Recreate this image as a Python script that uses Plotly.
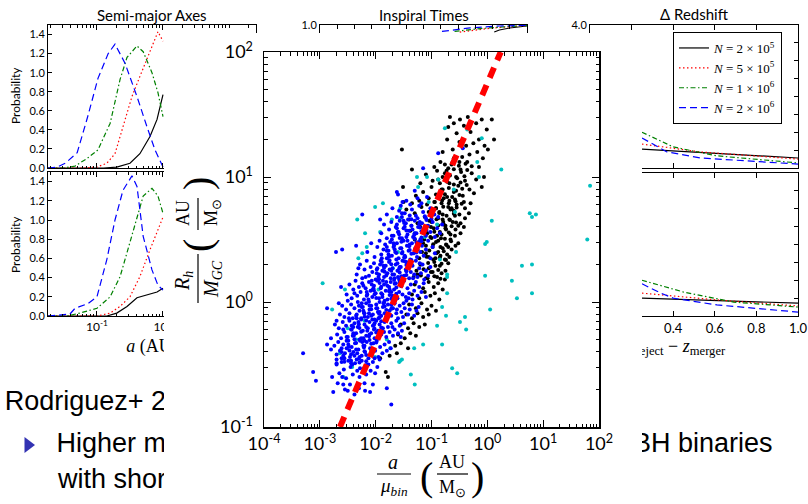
import plotly.graph_objects as go

# ===================== DATA =====================
# Main panel: individual binaries, (log10 a/mu_bin [AU/Msun], log10 R_h/M_GC [AU/Msun])
BLUE_PTS = [
 (-1.62,0.88),(-1.15,1.07),(-0.88,1.19),(-0.44,1.23),(-1.53,0.71),
 (-1.60,0.86),(-1.45,0.81),(-1.30,0.89),(-1.18,0.79),(-1.52,0.80),(-1.08,0.84),(-1.38,0.78),(-1.25,0.83),
 (-1.80,0.70),(-1.70,0.75),(-1.62,0.68),(-1.55,0.77),(-1.48,0.71),(-1.42,0.66),(-1.35,0.74),(-1.28,0.69),
 (-1.22,0.77),(-1.15,0.72),(-1.10,0.67),(-1.02,0.75),(-0.95,0.70),(-0.88,0.68),(-1.58,0.73),(-2.24,0.70),(-1.92,0.66),
 (-1.90,0.55),(-1.85,0.62),(-1.80,0.51),(-1.76,0.58),(-1.72,0.64),(-1.68,0.53),(-1.64,0.60),(-1.60,0.56),
 (-1.57,0.65),(-1.53,0.51),(-1.50,0.59),(-1.46,0.63),(-1.43,0.54),(-1.40,0.57),(-1.36,0.61),(-1.33,0.52),
 (-1.30,0.65),(-1.27,0.55),(-1.24,0.60),(-1.20,0.50),(-1.17,0.63),(-1.13,0.57),(-1.10,0.53),(-1.06,0.61),
 (-1.02,0.56),(-0.98,0.64),(-0.94,0.52),(-0.90,0.59),(-0.85,0.55),(-0.81,0.62),
 (-2.15,0.40),(-2.08,0.47),(-2.02,0.36),(-1.97,0.44),(-1.93,0.49),(-1.90,0.38),(-1.86,0.42),(-1.83,0.46),
 (-1.80,0.35),(-1.77,0.41),(-1.74,0.48),(-1.71,0.37),(-1.68,0.44),(-1.65,0.40),(-1.62,0.47),(-1.59,0.35),
 (-1.56,0.43),(-1.53,0.39),(-1.50,0.49),(-1.47,0.36),(-1.44,0.45),(-1.41,0.41),(-1.38,0.34),(-1.35,0.47),
 (-1.32,0.39),(-1.29,0.43),(-1.26,0.36),(-1.23,0.48),(-1.20,0.40),(-1.17,0.45),(-1.14,0.37),(-1.10,0.42),
 (-1.06,0.49),(-1.02,0.35),(-0.98,0.44),(-0.94,0.39),(-2.71,0.40),(-2.60,0.42),(-2.35,0.45),
 (-2.34,0.22),(-2.28,0.30),(-2.24,0.19),(-2.20,0.26),(-2.16,0.33),(-2.12,0.21),(-2.09,0.28),(-2.06,0.24),
 (-2.03,0.31),(-2.00,0.18),(-1.97,0.27),(-1.94,0.22),(-1.91,0.33),(-1.88,0.25),(-1.85,0.20),(-1.82,0.29),
 (-1.79,0.23),(-1.76,0.32),(-1.73,0.19),(-1.70,0.27),(-1.67,0.22),(-1.64,0.30),(-1.61,0.25),(-1.58,0.18),
 (-1.55,0.28),(-1.52,0.33),(-1.49,0.21),(-1.46,0.26),(-1.43,0.31),(-1.40,0.19),(-1.37,0.24),(-1.34,0.29),
 (-1.31,0.22),(-1.28,0.33),(-1.25,0.20),(-1.22,0.27),(-1.19,0.23),(-1.16,0.30),(-1.13,0.18),(-1.10,0.25),
 (-1.06,0.21),(-1.02,0.28),(-2.31,0.27),(-2.18,0.20),(-1.92,0.30),(-1.75,0.26),(-1.60,0.20),(-1.45,0.32),
 (-1.33,0.19),(-1.21,0.31),
 (-2.52,0.06),(-2.47,0.14),(-2.43,0.03),(-2.40,0.10),(-2.36,0.17),(-2.33,0.05),(-2.30,0.12),(-2.27,0.08),
 (-2.24,0.15),(-2.21,0.02),(-2.18,0.11),(-2.15,0.06),(-2.12,0.16),(-2.09,0.09),(-2.06,0.04),(-2.03,0.13),
 (-2.00,0.07),(-1.97,0.17),(-1.94,0.03),(-1.91,0.11),(-1.88,0.06),(-1.85,0.14),(-1.82,0.09),(-1.79,0.02),
 (-1.76,0.12),(-1.73,0.16),(-1.70,0.05),(-1.67,0.10),(-1.64,0.15),(-1.61,0.03),(-1.58,0.08),(-1.55,0.13),
 (-1.52,0.06),(-1.49,0.17),(-1.46,0.04),(-1.43,0.11),(-1.40,0.07),(-1.37,0.14),(-1.34,0.02),(-1.31,0.09),
 (-1.28,0.16),(-1.25,0.05),(-1.22,0.12),(-1.18,0.08),(-1.14,0.15),(-1.10,0.04),(-2.38,0.07),(-2.22,0.13),
 (-2.05,0.10),(-1.87,0.17),(-1.72,0.08),(-1.57,0.16),(-1.41,0.03),(-2.87,-0.05),(-2.62,0.12),
 (-2.64,-0.10),(-2.60,-0.03),(-2.56,-0.12),(-2.53,-0.06),(-2.50,0.01),(-2.47,-0.09),(-2.44,-0.02),(-2.41,-0.13),
 (-2.38,-0.05),(-2.35,-0.11),(-2.32,0.00),(-2.29,-0.07),(-2.26,-0.13),(-2.23,-0.04),(-2.20,-0.09),(-2.17,-0.01),
 (-2.14,-0.12),(-2.11,-0.06),(-2.08,-0.03),(-2.05,-0.10),(-2.02,-0.14),(-1.99,-0.05),(-1.96,-0.08),(-1.93,0.00),
 (-1.90,-0.11),(-1.87,-0.04),(-1.84,-0.09),(-1.81,-0.13),(-1.78,-0.02),(-1.75,-0.07),(-1.72,-0.11),(-1.69,-0.05),
 (-1.66,-0.01),(-1.63,-0.09),(-1.60,-0.13),(-1.57,-0.03),(-1.54,-0.08),(-1.51,-0.12),(-1.48,-0.05),(-1.45,0.01),
 (-1.42,-0.10),(-1.39,-0.06),(-1.35,-0.02),(-1.31,-0.11),(-1.27,-0.07),(-1.23,-0.04),(-2.48,-0.13),(-2.30,-0.03),
 (-2.12,-0.09),(-1.95,-0.13),(-1.77,-0.10),(-1.62,-0.06),(-1.50,-0.01),(-2.66,-0.01),(-1.86,-0.01),
 (-2.73,-0.18),(-2.69,-0.26),(-2.66,-0.21),(-2.62,-0.29),(-2.59,-0.16),(-2.56,-0.24),(-2.53,-0.19),(-2.50,-0.28),
 (-2.47,-0.15),(-2.44,-0.22),(-2.41,-0.27),(-2.38,-0.17),(-2.35,-0.25),(-2.32,-0.20),(-2.29,-0.30),(-2.26,-0.14),
 (-2.23,-0.23),(-2.20,-0.18),(-2.17,-0.27),(-2.14,-0.21),(-2.11,-0.16),(-2.08,-0.25),(-2.05,-0.19),(-2.02,-0.29),
 (-1.99,-0.15),(-1.96,-0.23),(-1.93,-0.18),(-1.90,-0.26),(-1.87,-0.21),(-1.84,-0.16),(-1.81,-0.28),(-1.78,-0.20),
 (-1.75,-0.24),(-1.72,-0.17),(-1.69,-0.27),(-1.66,-0.22),(-1.63,-0.15),(-1.60,-0.25),(-1.57,-0.19),(-1.53,-0.23),
 (-1.49,-0.17),(-2.58,-0.22),(-2.40,-0.20),(-2.22,-0.29),(-2.03,-0.22),(-1.85,-0.24),(-1.70,-0.20),(-1.55,-0.28),
 (-2.80,-0.29),(-2.70,-0.15),
 (-2.74,-0.35),(-2.70,-0.42),(-2.67,-0.32),(-2.64,-0.39),(-2.61,-0.45),(-2.58,-0.34),(-2.55,-0.41),(-2.52,-0.37),
 (-2.49,-0.31),(-2.46,-0.44),(-2.43,-0.36),(-2.40,-0.40),(-2.37,-0.33),(-2.34,-0.46),(-2.31,-0.38),(-2.28,-0.31),
 (-2.25,-0.43),(-2.22,-0.35),(-2.19,-0.40),(-2.16,-0.32),(-2.13,-0.45),(-2.10,-0.37),(-2.07,-0.42),(-2.04,-0.33),
 (-2.01,-0.39),(-1.98,-0.31),(-1.95,-0.44),(-1.92,-0.36),(-1.88,-0.41),(-1.84,-0.34),(-1.80,-0.39),(-1.76,-0.32),
 (-1.73,-0.37),(-2.56,-0.45),(-2.38,-0.43),(-2.20,-0.31),(-2.02,-0.45),(-2.87,-0.34),(-3.30,-0.41),(-2.80,-0.38),
 (-2.70,-0.50),(-2.65,-0.57),(-2.61,-0.48),(-2.57,-0.54),(-2.53,-0.61),(-2.49,-0.47),(-2.45,-0.52),(-2.41,-0.58),
 (-2.37,-0.49),(-2.33,-0.55),(-2.29,-0.60),(-2.25,-0.47),(-2.21,-0.53),(-2.17,-0.58),(-2.13,-0.50),(-2.09,-0.55),
 (-2.05,-0.48),(-2.01,-0.57),(-1.97,-0.52),(-1.93,-0.46),(-2.60,-0.60),(-2.44,-0.49),(-2.28,-0.53),(-2.78,-0.60),
 (-3.12,-0.56),
 (-2.68,-0.65),(-2.55,-0.70),(-2.46,-0.66),(-2.38,-0.74),(-2.30,-0.69),(-2.20,-0.65),(-2.10,-0.72),(-1.80,-0.69),
 (-2.05,-0.66),(-1.72,-0.82),(-3.07,-0.63),(-2.76,-0.72),(-2.58,-0.66),(-2.50,-0.71),(-2.19,-0.71),
]

# dense blue core of the cloud
BLUE_CORE_PTS = [
 (-1.53,0.680),(-1.39,0.692),(-1.25,0.671),(-1.12,0.686),(-1.00,0.666),
 (-1.50,0.650),(-1.36,0.662),(-1.21,0.641),(-1.09,0.656),
 (-1.62,0.620),(-1.49,0.632),(-1.36,0.611),(-1.22,0.626),(-1.09,0.606),
 (-1.62,0.590),(-1.48,0.602),(-1.34,0.581),(-1.21,0.596),(-1.09,0.576),
 (-1.59,0.560),(-1.45,0.572),(-1.30,0.551),(-1.18,0.566),
 (-1.71,0.530),(-1.58,0.542),(-1.45,0.521),(-1.31,0.536),(-1.18,0.516),
 (-1.71,0.500),(-1.57,0.512),(-1.43,0.491),(-1.30,0.506),(-1.18,0.486),
 (-1.68,0.470),(-1.54,0.482),(-1.39,0.461),(-1.27,0.476),
 (-1.80,0.440),(-1.67,0.452),(-1.54,0.431),(-1.40,0.446),(-1.27,0.426),
 (-1.80,0.410),(-1.66,0.422),(-1.52,0.401),(-1.39,0.416),(-1.27,0.396),
 (-1.77,0.380),(-1.63,0.392),(-1.48,0.371),(-1.36,0.386),
 (-1.89,0.350),(-1.76,0.362),(-1.63,0.341),(-1.49,0.356),(-1.36,0.336),
 (-1.89,0.320),(-1.75,0.332),(-1.61,0.311),(-1.48,0.326),(-1.36,0.306),
 (-1.86,0.290),(-1.72,0.302),(-1.57,0.281),(-1.45,0.296),
 (-1.98,0.260),(-1.85,0.272),(-1.72,0.251),(-1.58,0.266),(-1.45,0.246),
 (-1.98,0.230),(-1.84,0.242),(-1.70,0.221),(-1.57,0.236),(-1.45,0.216),
 (-1.95,0.200),(-1.81,0.212),(-1.66,0.191),(-1.54,0.206),
 (-2.07,0.170),(-1.94,0.182),(-1.81,0.161),(-1.67,0.176),(-1.54,0.156),
 (-2.07,0.140),(-1.93,0.152),(-1.79,0.131),(-1.66,0.146),(-1.54,0.126),
 (-2.04,0.110),(-1.90,0.122),(-1.75,0.101),(-1.63,0.116),
 (-2.16,0.080),(-2.03,0.092),(-1.90,0.071),(-1.76,0.086),(-1.63,0.066),
 (-2.16,0.050),(-2.02,0.062),(-1.88,0.041),(-1.75,0.056),(-1.63,0.036),
 (-2.13,0.020),(-1.99,0.032),(-1.84,0.011),(-1.72,0.026),
 (-2.25,-0.010),(-2.12,0.002),(-1.99,-0.019),(-1.85,-0.004),(-1.72,-0.024),
 (-2.25,-0.040),(-2.11,-0.028),(-1.97,-0.049),(-1.84,-0.034),(-1.72,-0.054),
 (-2.22,-0.070),(-2.08,-0.058),(-1.93,-0.079),(-1.81,-0.064),
 (-2.34,-0.100),(-2.21,-0.088),(-2.08,-0.109),(-1.94,-0.094),(-1.81,-0.114),
 (-2.34,-0.130),(-2.20,-0.118),(-2.06,-0.139),(-1.93,-0.124),(-1.81,-0.144),
 (-2.31,-0.160),(-2.17,-0.148),(-2.02,-0.169),(-1.90,-0.154),
 (-2.43,-0.190),(-2.30,-0.178),(-2.17,-0.199),(-2.03,-0.184),(-1.90,-0.204),
 (-2.43,-0.220),(-2.29,-0.208),(-2.15,-0.229),(-2.02,-0.214),(-1.90,-0.234),
 (-2.40,-0.250),(-2.26,-0.238),(-2.11,-0.259),(-1.99,-0.244),
 (-2.52,-0.280),(-2.39,-0.268),(-2.26,-0.289),(-2.12,-0.274),(-1.99,-0.294),
 (-2.52,-0.310),(-2.38,-0.298),(-2.24,-0.319),(-2.11,-0.304),(-1.99,-0.324),
 (-2.49,-0.340),(-2.35,-0.328),(-2.20,-0.349),(-2.08,-0.334),
 (-2.61,-0.370),(-2.48,-0.358),(-2.35,-0.379),(-2.21,-0.364),(-2.08,-0.384),
 (-2.61,-0.400),(-2.47,-0.388),(-2.33,-0.409),(-2.20,-0.394),(-2.08,-0.414),
 (-2.58,-0.430),(-2.44,-0.418),(-2.29,-0.439),(-2.17,-0.424),
 (-2.70,-0.460),(-2.57,-0.448),(-2.44,-0.469),(-2.30,-0.454),(-2.17,-0.474),
 (-2.70,-0.490),(-2.56,-0.478),(-2.42,-0.499),(-2.29,-0.484),(-2.17,-0.504),
]

BLACK_PTS = [
 (-0.67,1.48),(-0.49,1.46),(-0.35,1.48),(-0.10,1.46),(0.08,1.46),(-0.01,1.38),(0.01,1.22),(-0.08,1.15),
 (-1.53,1.22),(-0.70,1.40),(-0.60,1.43),(-0.55,1.35),(-0.42,1.41),(-0.30,1.36),(-0.20,1.43),(-0.15,1.30),
 (-0.25,1.27),(-0.38,1.25),(-0.50,1.28),(-0.62,1.22),(-0.72,1.30),(-0.05,1.25),(0.12,1.30),(-0.32,1.18),
 (-0.45,1.16),(-0.60,1.15),(-0.80,1.20),(-0.18,1.20),
 (-1.28,0.85),(-1.20,0.95),(-1.15,0.88),(-1.10,1.02),(-1.05,0.83),(-1.00,0.92),(-0.95,1.08),(-0.92,0.86),
 (-0.88,0.98),(-0.84,1.12),(-0.80,0.90),(-0.76,1.03),(-0.72,0.84),(-0.68,0.95),(-0.64,1.10),(-0.60,0.88),
 (-0.56,1.00),(-0.52,0.93),(-0.48,1.06),(-0.44,0.85),(-0.40,0.97),(-0.36,1.12),(-0.32,0.90),(-0.28,1.03),
 (-0.24,0.87),(-0.20,0.98),(-0.15,1.08),(-0.10,0.92),(-0.06,1.00),(-0.90,1.05),(-0.70,1.07),(-0.50,1.12),
 (-0.98,0.97),(-0.78,0.83),(-0.58,0.82),(-1.35,1.06),(-1.51,0.92),
 (-1.50,0.80),(-1.35,0.79),(-1.22,0.81),(-1.08,0.78),(-0.95,0.80),(-0.82,0.79),(-0.68,0.81),(-0.55,0.78),
 (-0.42,0.80),(-0.30,0.79),(-1.45,0.74),(-1.30,0.71),(-1.18,0.76),(-1.05,0.72),(-0.92,0.75),(-0.80,0.70),
 (-0.70,0.76),(-0.60,0.73),(-0.50,0.70),(-0.40,0.75),(-0.33,0.71),(-1.40,0.66),(-1.25,0.63),(-1.12,0.68),
 (-1.00,0.64),(-0.88,0.67),(-0.78,0.62),(-0.68,0.66),(-0.58,0.69),(-0.48,0.63),(-0.40,0.67),(-1.38,0.57),
 (-1.20,0.60),(-1.08,0.55),(-0.96,0.59),(-0.85,0.56),(-0.75,0.61),(-0.66,0.54),(-0.57,0.58),(-0.48,0.55),
 (-0.42,0.60),(-1.30,0.50),(-1.15,0.47),(-1.02,0.52),(-0.92,0.48),(-0.83,0.51),(-0.74,0.46),(-0.66,0.50),
 (-0.58,0.53),(-0.52,0.47),(-1.25,0.42),(-1.10,0.39),(-0.98,0.44),(-0.88,0.40),(-0.80,0.43),(-0.72,0.38),
 (-0.64,0.42),(-0.57,0.45),(-1.05,0.36),(-0.93,0.35),(-0.84,0.37),(-0.76,0.34),(-0.68,0.36),(-0.86,0.72),
 (-0.74,0.58),(-0.62,0.64),(-0.98,0.70),(-1.12,0.57),(-0.90,0.53),(-0.70,0.44),(-0.80,0.66),(-0.52,0.61),
 (-0.64,0.75),
 (-1.20,0.30),(-1.05,0.27),(-0.95,0.32),(-0.85,0.29),(-0.75,0.25),(-0.70,0.31),(-1.25,0.22),(-1.10,0.19),
 (-0.98,0.24),(-0.90,0.20),(-0.82,0.23),(-0.76,0.18),(-1.30,0.14),(-1.15,0.11),(-1.05,0.16),(-0.96,0.12),
 (-0.88,0.15),(-0.80,0.10),(-1.35,0.06),(-1.22,0.03),(-1.12,0.08),(-1.02,0.05),(-0.94,0.07),(-0.86,0.02),
 (-1.40,-0.02),(-1.28,-0.05),(-1.18,-0.01),(-1.08,-0.06),(-1.00,-0.03),(-0.92,-0.07),(-1.45,-0.10),(-1.35,-0.13),
 (-1.25,-0.09),(-1.15,-0.12),(-1.05,-0.10),(-1.55,-0.18),(-1.42,-0.21),(-1.32,-0.17),(-1.22,-0.20),(-1.12,-0.18),
 (-1.60,-0.26),(-1.48,-0.29),(-1.38,-0.25),(-1.28,-0.27),(-1.65,-0.35),(-1.55,-0.33),(-1.42,-0.37),(-1.75,-0.43),
 (-1.62,-0.41),(-1.92,-0.45),(-1.78,-0.60),(-1.82,-0.56),
]

# dense black core of the cloud
BLACK_CORE_PTS = [
 (-0.76,1.100),(-0.63,1.112),(-0.51,1.091),(-0.39,1.106),(-0.28,1.086),
 (-0.73,1.050),(-0.60,1.062),(-0.47,1.041),(-0.36,1.056),
 (-0.80,1.000),(-0.67,1.012),(-0.54,0.991),(-0.41,1.006),
 (-0.85,0.950),(-0.72,0.962),(-0.60,0.941),(-0.48,0.956),(-0.37,0.936),
 (-0.82,0.900),(-0.69,0.912),(-0.56,0.891),(-0.45,0.906),
 (-0.89,0.850),(-0.76,0.862),(-0.63,0.841),(-0.50,0.856),
 (-0.94,0.800),(-0.81,0.812),(-0.69,0.791),(-0.57,0.806),(-0.46,0.786),
 (-0.92,0.750),(-0.79,0.762),(-0.66,0.741),(-0.55,0.756),
 (-0.99,0.700),(-0.86,0.712),(-0.73,0.691),(-0.60,0.706),
 (-1.04,0.650),(-0.91,0.662),(-0.79,0.641),(-0.67,0.656),(-0.56,0.636),
 (-1.01,0.600),(-0.88,0.612),(-0.75,0.591),(-0.64,0.606),
 (-1.08,0.550),(-0.95,0.562),(-0.82,0.541),(-0.69,0.556),
 (-1.13,0.500),(-1.00,0.512),(-0.88,0.491),(-0.76,0.506),(-0.65,0.486),
 (-1.10,0.450),(-0.97,0.462),(-0.84,0.441),(-0.73,0.456),
 (-1.17,0.400),(-1.04,0.412),(-0.91,0.391),(-0.78,0.406),
 (-1.22,0.350),(-1.09,0.362),(-0.97,0.341),(-0.85,0.356),(-0.74,0.336),
 (-1.19,0.300),(-1.06,0.312),(-0.93,0.291),(-0.82,0.306),
 (-1.27,0.250),(-1.14,0.262),(-1.01,0.241),(-0.88,0.256),
 (-1.32,0.200),(-1.19,0.212),(-1.07,0.191),(-0.95,0.206),(-0.84,0.186),
]

CYAN_PTS = [
 (1.84,0.93),(0.76,0.71),(0.87,0.70),(0.80,0.68),(0.08,0.65),(0.25,1.06),(-0.15,1.00),(1.79,0.50),
 (-0.01,0.48),(-0.04,0.465),(0.62,0.29),(0.80,0.30),(0.44,0.17),(-0.04,0.21),(0.80,0.07),(0.53,0.03),
 (-0.56,0.40),(-0.72,0.22),(-0.72,0.07),(0.05,-0.06),(-0.40,-0.12),(-0.49,-0.16),(-0.38,-0.22),(-0.74,-0.11),
 (-0.81,-0.04),(-0.90,-0.19),(-0.81,-0.34),(-1.15,-0.34),(-1.31,-0.37),(-0.63,-0.53),(-1.56,-0.47),(-1.37,-0.58),
 (-1.58,-0.48),(-1.30,-0.66),(-0.54,-0.57),(-0.76,1.39),(-0.36,1.38),(-0.10,1.31),(-0.18,1.12),(-1.87,0.79),
 (-2.01,0.76),(-2.33,0.66),(-2.19,0.55),(-1.92,0.56),(-1.71,0.66),(-1.24,0.92),(-1.26,1.00),(-1.08,1.00),
 (-0.88,0.98),(-1.56,0.75),(-2.16,0.44),(-2.24,0.39),(-2.31,0.35),(-2.55,0.10),(-2.95,0.15),(-2.78,-0.06),
 (-2.50,-0.21),(-2.64,-0.41),(-2.58,-0.60),(-2.42,-0.52),(-2.01,-0.44),(-1.74,-0.37),(-1.80,-0.30),(-1.53,-0.46),
 (-1.69,0.27),(-1.56,0.67),(-0.58,0.72),(-1.12,0.52),(-0.85,0.34),(-0.72,0.20),(-1.95,0.10),(-2.20,-0.15),
 (-1.70,-0.05),(-1.45,0.25),(-2.35,-0.30),(-1.60,0.40),(-1.30,0.55),(-1.05,0.80),(-0.90,0.62),(-0.60,0.90),
]

FIT_LOG_A = [-2.64, 0.24]
FIT_LOG_R = [-1.00, 2.00]

MAIN_X_TICKS = [1e-4, 1e-3, 1e-2, 1e-1, 1e0, 1e1, 1e2]
MAIN_X_TICKTEXT = ["10<sup>-4</sup>", "10<sup>-3</sup>", "10<sup>-2</sup>", "10<sup>-1</sup>",
                   "10<sup>0</sup>", "10<sup>1</sup>", "10<sup>2</sup>"]
MAIN_Y_TICKS = [1e-1, 1e0, 1e1, 1e2]
MAIN_Y_TICKTEXT = ["10<sup>-1</sup>", "10<sup>0</sup>", "10<sup>1</sup>", "10<sup>2</sup>"]

# Background panels: series order N = 2e5, 5e5, 1e6, 2e6
LEGEND_NAMES = ["<i>N</i> = 2 × 10<sup>5</sup>", "<i>N</i> = 5 × 10<sup>5</sup>",
                "<i>N</i> = 1 × 10<sup>6</sup>", "<i>N</i> = 2 × 10<sup>6</sup>"]

# Semi-major axes, top panel (log10 a [AU], probability)
SMA_TOP_LOGA = [
 [-1.74, -0.90, -0.70, -0.50, -0.35, -0.197, -0.09, 0.0],
 [-1.74, -1.20, -1.00, -0.85, -0.727, -0.606, -0.47, -0.35, -0.242, -0.152, -0.076, 0.0],
 [-1.74, -1.50, -1.333, -1.15, -0.985, -0.80, -0.65, -0.545, -0.394, -0.30, -0.167, -0.076, 0.0],
 [-1.74, -1.60, -1.48, -1.30, -1.14, -0.985, -0.83, -0.727, -0.576, -0.394, -0.242, -0.121, 0.0],
]
SMA_TOP_P = [
 [0.0, 0.0, 0.01, 0.05, 0.15, 0.33, 0.51, 0.77],
 [0.0, 0.0, 0.01, 0.05, 0.15, 0.43, 0.75, 0.96, 1.14, 1.31, 1.43, 1.33],
 [0.0, 0.0, 0.02, 0.10, 0.19, 0.47, 0.93, 1.16, 1.28, 1.22, 1.00, 0.79, 0.54],
 [0.0, 0.01, 0.05, 0.16, 0.54, 0.94, 1.20, 1.30, 1.10, 0.75, 0.43, 0.19, 0.01],
]
# Semi-major axes, bottom panel
SMA_BOT_LOGA = [
 [-1.74, -0.85, -0.70, -0.545, -0.394, -0.242, -0.09, 0.0],
 [-1.74, -1.00, -0.80, -0.65, -0.50, -0.35, -0.197, -0.09, 0.0],
 [-1.74, -1.45, -1.26, -1.00, -0.80, -0.65, -0.545, -0.394, -0.30, -0.167, -0.076, 0.0],
 [-1.74, -1.41, -1.333, -1.136, -1.00, -0.85, -0.727, -0.606, -0.47, -0.394, -0.30, -0.167, -0.076, 0.0],
]
SMA_BOT_P = [
 [0.0, 0.0, 0.03, 0.10, 0.19, 0.22, 0.25, 0.29],
 [0.0, 0.0, 0.03, 0.10, 0.20, 0.41, 0.69, 0.87, 1.03],
 [0.0, 0.0, 0.03, 0.08, 0.20, 0.41, 0.66, 1.04, 1.25, 1.33, 1.25, 1.07],
 [0.0, 0.02, 0.08, 0.13, 0.20, 0.59, 1.00, 1.31, 1.46, 1.35, 0.83, 0.48, 0.32, 0.27],
]
SMA_X_TICKS = [0.1, 1]
SMA_X_TICKTEXT = ["10<sup>-1</sup>", "10<sup>0</sup>"]
PROB_TICKS = [0.0, 0.2, 0.4, 0.6, 0.8, 1.0, 1.2, 1.4]
PROB_TICKTEXT = ["0.0", "0.2", "0.4", "0.6", "0.8", "1.0", "1.2", "1.4"]

# Inspiral times (only the top strip is visible)
INSP_X = [[10.1, 10.4, 11.0, 12.0], [8.1, 9.0, 9.9, 11.3, 12.0],
          [7.8, 8.4, 9.3, 11.0, 12.0], [7.07, 7.8, 8.7, 10.4, 12.0]]
INSP_Y = [[0.951, 0.965, 0.979, 0.993], [0.95, 0.965, 0.978, 0.99, 0.995],
          [0.955, 0.965, 0.975, 0.99, 0.996], [0.955, 0.965, 0.98, 0.993, 0.998]]
INSP_SHADE = [0.0, 6.1]

# Delta redshift panels
DZ_TOP_X = [[0.25, 1.0], [0.25, 0.53, 1.0], [0.25, 0.40, 0.61, 1.0], [0.25, 0.37, 0.53, 1.0]]
DZ_TOP_Y = [[0.53, 0.28], [0.67, 0.45, 0.25], [1.00, 0.59, 0.34, 0.14], [0.84, 0.45, 0.28, 0.11]]
DZ_BOT_X = [[0.25, 1.0], [0.25, 0.61, 1.0], [0.25, 0.45, 0.69, 1.0], [0.25, 0.34, 0.40, 0.61, 1.0]]
DZ_BOT_Y = [[0.50, 0.36], [0.64, 0.45, 0.28], [1.00, 0.67, 0.39, 0.25], [0.90, 0.64, 0.50, 0.31, 0.11]]
DZ_X_TICKS = [0.4, 0.6, 0.8, 1.0]
DZ_X_TICKTEXT = ["0.4", "0.6", "0.8", "1.0"]

# ===================== STYLE =====================
W, H = 808, 504
COLORS = ["black", "#ff0000", "#008000", "#0000ff"]
DASHES = ["solid", "1.5px,2.5px", "5px,2.5px,1.5px,2.5px", "7px,4px"]
SANS = "Lato"
SERIF = "Liberation Serif"
SLIDE_FONT = dict(family="Liberation Sans", size=27, color="black")


def px(x0, x1):
    return [x0 / W, x1 / W]


def py(y_top, y_bot):
    return [1 - y_bot / H, 1 - y_top / H]


def pt(x, y):
    return x / W, 1 - y / H


fig = go.Figure()

# ---------- 1: page layer (slide text that sits beneath the overlaid figure) ----------
fig.add_trace(go.Scatter(
    x=[166, 166, 166], y=[403, 445, 481], mode="text",
    text=["Rodriguez+ 2", "Higher m", "with shor"], textposition="middle left",
    textfont=SLIDE_FONT, xaxis="x", yaxis="y", showlegend=False, hoverinfo="skip", cliponaxis=False))
fig.add_trace(go.Scatter(
    x=[633], y=[445], mode="text", text=["BH binaries"], textposition="middle right",
    textfont=SLIDE_FONT, xaxis="x", yaxis="y", showlegend=False, hoverinfo="skip", cliponaxis=False))
fig.add_trace(go.Scatter(
    x=[28], y=[445], mode="markers",
    marker=dict(symbol="triangle-right", size=14, color="#3333b3"),
    xaxis="x", yaxis="y", showlegend=False, hoverinfo="skip"))
fig.add_trace(go.Scatter(
    x=[152, 679], y=[347, 347], mode="text",
    text=["<i>a</i> (AU)", "<i>z</i><sub>eject</sub> − <i>z</i><sub>merger</sub>"],
    textposition="middle center", textfont=dict(family=SERIF, size=18, color="black"),
    xaxis="x", yaxis="y", showlegend=False, hoverinfo="skip", cliponaxis=False))

# ---------- 2,3: semi-major axes ----------
for i in range(4):
    fig.add_trace(go.Scatter(
        x=[10 ** v for v in SMA_TOP_LOGA[i]], y=SMA_TOP_P[i], mode="lines",
        line=dict(color=COLORS[i], width=1.2, dash=DASHES[i]),
        xaxis="x2", yaxis="y2", showlegend=False, hoverinfo="skip"))
for i in range(4):
    fig.add_trace(go.Scatter(
        x=[10 ** v for v in SMA_BOT_LOGA[i]], y=SMA_BOT_P[i], mode="lines",
        line=dict(color=COLORS[i], width=1.2, dash=DASHES[i]),
        xaxis="x3", yaxis="y3", showlegend=False, hoverinfo="skip"))

# ---------- 4: inspiral times ----------
for i in range(4):
    fig.add_trace(go.Scatter(
        x=INSP_X[i], y=INSP_Y[i], mode="lines",
        line=dict(color=COLORS[i], width=1.2, dash=DASHES[i]),
        xaxis="x4", yaxis="y4", showlegend=False, hoverinfo="skip"))

# ---------- 5,6: delta redshift ----------
for i in range(4):
    fig.add_trace(go.Scatter(
        x=DZ_TOP_X[i], y=DZ_TOP_Y[i], mode="lines", name=LEGEND_NAMES[i],
        line=dict(color=COLORS[i], width=1.2, dash=DASHES[i]),
        xaxis="x5", yaxis="y5", showlegend=True, hoverinfo="skip"))
for i in range(4):
    fig.add_trace(go.Scatter(
        x=DZ_BOT_X[i], y=DZ_BOT_Y[i], mode="lines",
        line=dict(color=COLORS[i], width=1.2, dash=DASHES[i]),
        xaxis="x6", yaxis="y6", showlegend=False, hoverinfo="skip"))

# ---------- 7: white overlay panel ----------
fig.add_trace(go.Scatter(
    x=[0, 1, 1, 0, 0], y=[0, 0, 1, 1, 0], mode="lines", fill="toself",
    fillcolor="white", line=dict(width=0, color="white"),
    xaxis="x7", yaxis="y7", showlegend=False, hoverinfo="skip"))

# ---------- 8: main scatter ----------
for pts, col in [(BLACK_PTS + BLACK_CORE_PTS, "black"), (CYAN_PTS, "#00c0c0"),
                 (BLUE_PTS + BLUE_CORE_PTS, "#0000ff")]:
    fig.add_trace(go.Scatter(
        x=[10 ** p[0] for p in pts], y=[10 ** p[1] for p in pts], mode="markers",
        marker=dict(size=4, color=col, line=dict(width=0)),
        xaxis="x8", yaxis="y8", showlegend=False, hoverinfo="skip"))
fig.add_trace(go.Scatter(
    x=[10 ** v for v in FIT_LOG_A], y=[10 ** v for v in FIT_LOG_R], mode="lines",
    line=dict(color="#ff0000", width=6, dash="11px,8px"),
    xaxis="x8", yaxis="y8", showlegend=False, hoverinfo="skip"))

# ===================== AXES =====================
tickfont_small = dict(family=SANS, size=11, color="black")
frame = dict(showline=True, linecolor="black", linewidth=1, mirror="ticks", automargin=False,
             ticks="inside", tickcolor="black", showgrid=False, zeroline=False)

sma_minor = [k * 10 ** e for e in range(-2, 2) for k in range(2, 10)] + [10]
main_minor_x = [k * 10 ** e for e in range(-4, 2) for k in range(2, 10)]
main_minor_y = [k * 10 ** e for e in range(-1, 2) for k in range(2, 10)]

layout = dict(
    width=W, height=H, margin=dict(l=0, r=0, t=0, b=0, pad=0, autoexpand=False),
    paper_bgcolor="white", plot_bgcolor="white", showlegend=True,
    legend=dict(x=673 / W, y=1 - 32 / H, xanchor="left", yanchor="top",
                bgcolor="white", bordercolor="black", borderwidth=1,
                font=dict(family=SERIF, size=13, color="black"),
                tracegroupgap=0, itemwidth=30),
    xaxis=dict(domain=[0, 1], range=[0, W], visible=False, anchor="y", automargin=False),
    yaxis=dict(domain=[0, 1], range=[H, 0], visible=False, anchor="x", automargin=False),
)

# semi-major axes
for n, (yt, yb, labels) in {2: (25, 168, False), 3: (172, 316, True)}.items():
    layout[f"xaxis{n}"] = dict(frame, type="log", range=[-1.742, 1.409], domain=px(48, 256),
                              anchor=f"y{n}", tickvals=SMA_X_TICKS, ticktext=SMA_X_TICKTEXT,
                              ticklen=5, showticklabels=labels,
                              tickfont=dict(family=SANS, size=12, color="black"),
                              minor=dict(ticks="inside", ticklen=2.5, tickvals=sma_minor,
                                         tickcolor="black", showgrid=False))
    layout[f"yaxis{n}"] = dict(frame, range=[0, 1.5], domain=py(yt, yb), anchor=f"x{n}",
                              tickvals=PROB_TICKS, ticktext=PROB_TICKTEXT, ticklen=4,
                              tickfont=tickfont_small)

# inspiral
layout["xaxis4"] = dict(frame, range=[0, 12], domain=px(320, 527), anchor="y4",
                        tickvals=list(range(13)), ticklen=4, showticklabels=False)
layout["yaxis4"] = dict(frame, range=[0, 1.0], domain=py(25, 168), anchor="x4",
                        tickvals=[1.0], ticktext=["1.0"], ticklen=4, tickfont=tickfont_small,
                        minor=dict(ticks="inside", ticklen=4, tickvals=[0.2, 0.4, 0.6, 0.8],
                                   tickcolor="black", showgrid=False))

# delta redshift
for n, (yt, yb, labels) in {5: (25, 168, False), 6: (173, 316, True)}.items():
    layout[f"xaxis{n}"] = dict(frame, range=[0, 1], domain=px(590, 798), anchor=f"y{n}",
                              tickvals=DZ_X_TICKS, ticktext=DZ_X_TICKTEXT, ticklen=5,
                              showticklabels=labels, tickfont=dict(family=SANS, size=13, color="black"),
                              minor=dict(ticks="inside", ticklen=5, tickvals=[0.2],
                                         tickcolor="black", showgrid=False))
    layout[f"yaxis{n}"] = dict(frame, range=[0, 4], domain=py(yt, yb), anchor=f"x{n}",
                              tickvals=[4.0], ticktext=["4.0"], ticklen=4,
                              showticklabels=(n == 5), tickfont=tickfont_small,
                              minor=dict(ticks="inside", ticklen=4,
                                         tickvals=[0.5, 1.0, 1.5, 2.0, 2.5, 3.0, 3.5],
                                         tickcolor="black", showgrid=False))

# overlay
layout["xaxis7"] = dict(domain=px(164, 642), range=[0, 1], visible=False, anchor="y7", automargin=False)
layout["yaxis7"] = dict(domain=py(33, 504), range=[0, 1], visible=False, anchor="x7", automargin=False)

# main
layout["xaxis8"] = dict(frame, type="log", range=[-4, 2], domain=px(264, 599), anchor="y8",
                        linewidth=1.5, tickvals=MAIN_X_TICKS, ticktext=MAIN_X_TICKTEXT,
                        ticklen=7, tickfont=dict(family=SANS, size=18, color="black"),
                        minor=dict(ticks="inside", ticklen=3.5, tickvals=main_minor_x,
                                   tickcolor="black", showgrid=False))
layout["yaxis8"] = dict(frame, type="log", range=[-1, 2], domain=py(52, 427), anchor="x8",
                        linewidth=1.5, tickvals=MAIN_Y_TICKS, ticktext=MAIN_Y_TICKTEXT,
                        ticklen=7, tickfont=dict(family=SANS, size=18, color="black"),
                        ticklabelstandoff=6,
                        minor=dict(ticks="inside", ticklen=3.5, tickvals=main_minor_y,
                                   tickcolor="black", showgrid=False))

fig.update_layout(**layout)

# vertical rule seen in the semi-major-axes top panel
fig.add_shape(type="line", xref="x2", yref="y2 domain", x0=1, x1=1, y0=0, y1=1,
              line=dict(color="black", width=1), layer="below")
# shaded band in inspiral panel
fig.add_shape(type="rect", xref="x4", yref="y4 domain", x0=INSP_SHADE[0], x1=INSP_SHADE[1],
              y0=0, y1=1, fillcolor="#e4e4e4", line=dict(width=0), layer="below")

# ===================== TEXT =====================
ann = []


def add_text(x, y, text, size, family=SANS, angle=0):
    xp, yp = pt(x, y)
    ann.append(dict(x=xp, y=yp, xref="paper", yref="paper", text=text, showarrow=False,
                    xanchor="center", yanchor="middle", textangle=angle,
                    font=dict(family=family, size=size, color="black")))


add_text(152, 15, "Semi-major Axes", 15)
add_text(424, 15, "Inspiral Times", 15)
add_text(694, 14, "Δ Redshift", 15)
add_text(15, 96, "Probability", 12, angle=-90)
add_text(15, 245, "Probability", 12, angle=-90)

# main x label: a / mu_bin (AU / Msun)
add_text(393, 462, "<i>a</i>", 20, SERIF)
add_text(394, 487, "<i>μ<sub>bin</sub></i>", 19, SERIF)
add_text(426, 476, "(", 40, SERIF)
add_text(452, 462, "AU", 18, SERIF)
add_text(452, 488, "M<sub>⊙</sub>", 18, SERIF)
add_text(477, 476, ")", 40, SERIF)
# main y label: R_h / M_GC (AU / Msun), rotated
add_text(183, 281, "<i>R<sub>h</sub></i>", 20, SERIF, -90)
add_text(212, 279, "<i>M<sub>GC</sub></i>", 20, SERIF, -90)
add_text(197, 246, "(", 40, SERIF, -90)
add_text(183, 213, "AU", 18, SERIF, -90)
add_text(212, 213, "M<sub>⊙</sub>", 18, SERIF, -90)
add_text(197, 184, ")", 40, SERIF, -90)
fig.update_layout(annotations=ann)

for (x0, y0, x1, y1) in [(377, 474, 411, 474), (437, 474, 468, 474),
                         (198, 254, 198, 303), (198, 198, 198, 230)]:
    a0, b0 = pt(x0, y0)
    a1, b1 = pt(x1, y1)
    fig.add_shape(type="line", xref="paper", yref="paper", x0=a0, y0=b0, x1=a1, y1=b1,
                  line=dict(color="black", width=1.2))

fig.write_html("out.html", config={"displayModeBar": False, "staticPlot": True},
               post_script="document.body.style.margin='0';document.body.style.overflow='hidden';")
